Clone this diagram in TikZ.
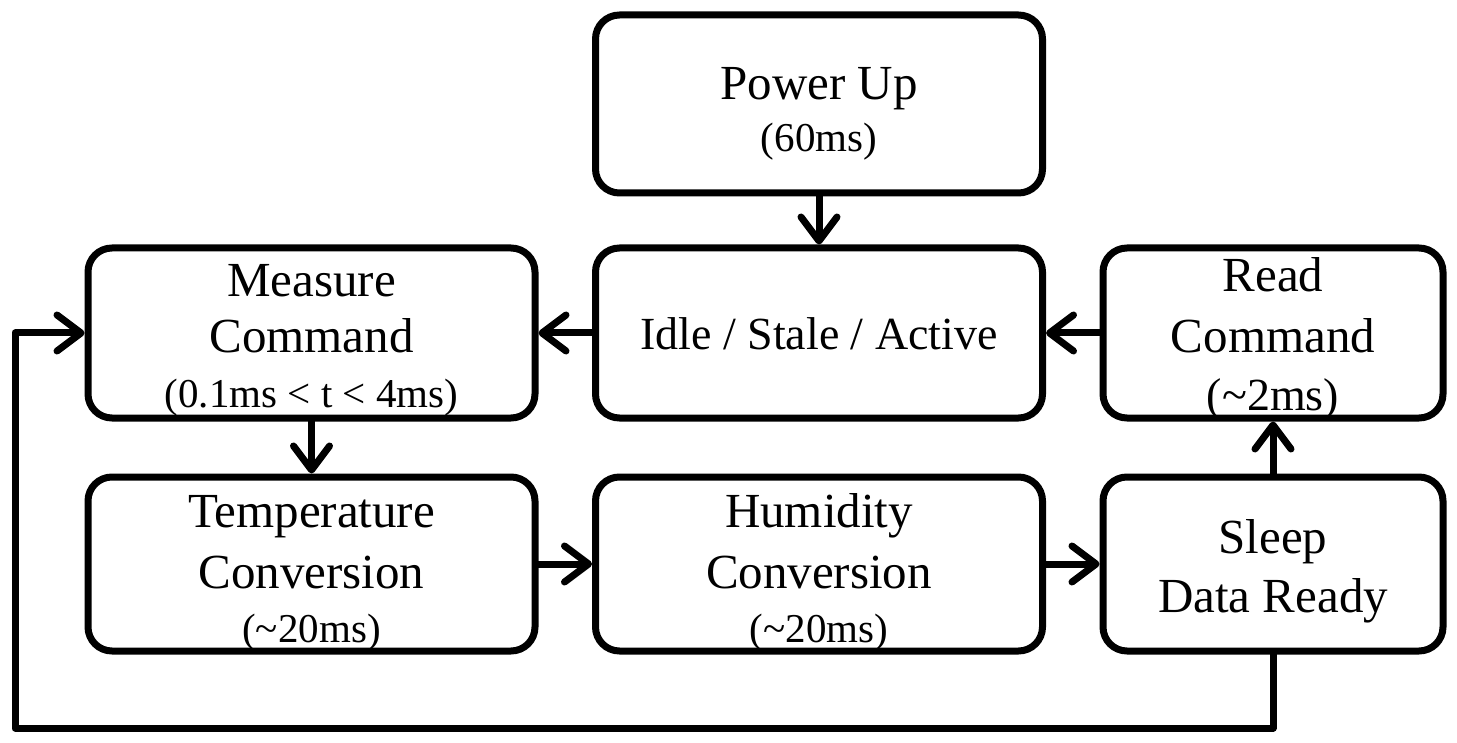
\documentclass[tikz,border=0pt]{standalone}
\usepackage{fontspec}
\setmainfont{Liberation Serif}
\usetikzlibrary{arrows.meta}
\begin{document}
\begin{tikzpicture}[x=0.5pt,y=-0.5pt,
  box/.style={draw, line width=3.5pt, rounded corners=12pt, inner sep=0pt},
  wide/.style={minimum width=223.5pt},
  narrow/.style={minimum width=170pt},
  txt/.style={inner sep=0pt, anchor=base, font=\fontsize{24.5}{28}\selectfont},
  subtxt/.style={inner sep=0pt, anchor=base, font=\fontsize{20.5}{24}\selectfont},
  flow/.style={line width=3.5pt, line cap=round, line join=round,
    -{Straight Barb[length=12pt,width=18pt,round]}}]
\useasboundingbox (0,0) rectangle (1457,743);
% boxes
\node[box, wide, minimum height=89pt] (power) at (819,104) {};
\node[box, wide, minimum height=85pt] (idle) at (819,333) {};
\node[box, wide, minimum height=85pt] (measure) at (311.5,333) {};
\node[box, narrow, minimum height=85pt] (read) at (1273,333) {};
\node[box, wide, minimum height=87pt] (temp) at (311.5,564) {};
\node[box, wide, minimum height=87pt] (hum) at (819,564) {};
\node[box, narrow, minimum height=87pt] (sleep) at (1273,564) {};
% texts
\node[txt] (p1) at (819,100) {Power Up};
\node[subtxt] (p2) at (819,152) {(60ms)};
\node[inner sep=0pt, anchor=base, font=\fontsize{23}{27}\selectfont] (i1) at (819,350) {Idle / Stale / Active};
\node[txt] (m1) at (311.5,297) {Measure};
\node[txt] (m2) at (311.5,353) {Command};
\node[subtxt] (m3) at (311.5,408) {(0.1ms < t < 4ms)};
\node[txt] (r1) at (1273,292) {Read};
\node[txt] (r2) at (1273,352) {Command};
\node[inner sep=0pt, anchor=base, font=\fontsize{23}{27}\selectfont] (r3) at (1273,410) {(\textasciitilde 2ms)};
\node[txt] (t1) at (311.5,527) {Temperature};
\node[txt] (t2) at (311.5,588) {Conversion};
\node[subtxt] (t3) at (311.5,642) {(\textasciitilde 20ms)};
\node[txt] (h1) at (819,527) {Humidity};
\node[txt] (h2) at (819,588) {Conversion};
\node[subtxt] (h3) at (819,642) {(\textasciitilde 20ms)};
\node[txt] (s1) at (1273,553) {Sleep};
\node[txt] (s2) at (1273,612) {Data Ready};
% connectors
\coordinate (c1) at (1273,728);
\coordinate (c2) at (15,728);
\coordinate (c3) at (15,333);
\draw[flow] (power) -- (idle);
\draw[flow] (idle) -- (measure);
\draw[flow] (read) -- (idle);
\draw[flow] (measure) -- (temp);
\draw[flow] (temp) -- (hum);
\draw[flow] (hum) -- (sleep);
\draw[flow] (sleep) -- (read);
\draw[flow] (sleep.south) -- (c1) -- (c2) -- (c3) -- (measure.west);
\end{tikzpicture}
\end{document}
